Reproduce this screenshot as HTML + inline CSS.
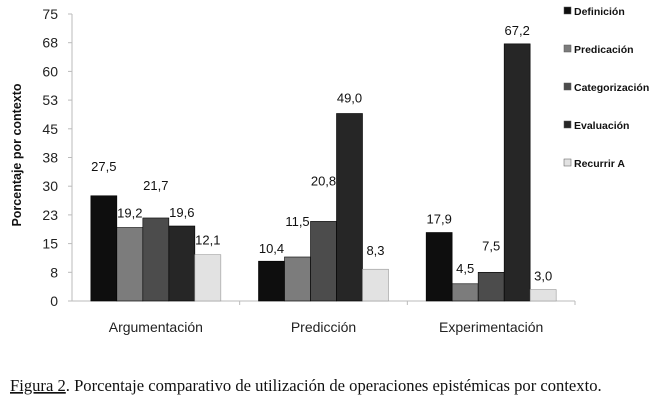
<!DOCTYPE html>
<html><head><meta charset="utf-8"><style>
body{margin:0;background:#fff;width:658px;height:406px;overflow:hidden;font-family:"Liberation Sans",sans-serif}
</style></head><body>
<svg width="658" height="406" id="svg">
<text transform="translate(21,155) rotate(-90)" text-anchor="middle" font-size="12.5" font-weight="bold" fill="#111">Porcentaje por contexto</text>
<text x="10" y="391" font-family="Liberation Serif,serif" font-size="16.6" fill="#111"><tspan text-decoration="underline">Figura 2</tspan>. Porcentaje comparativo de utilización de operaciones epistémicas por contexto.</text>
</svg>
<script>
const categories=["Argumentación","Predicción","Experimentación"];
const seriesNames=["Definición","Predicación","Categorización","Evaluación","Recurrir A"];
const defin=[27.5,10.4,17.9];
const predic=[19.2,11.5,4.5];
const categ=[21.7,20.8,7.5];
const evalu=[19.6,49.0,67.2];
const recur=[12.1,8.3,3.0];
const valueLabels=[["27,5","10,4","17,9"],["19,2","11,5","4,5"],["21,7","20,8","7,5"],["19,6","49,0","67,2"],["12,1","8,3","3,0"]];
const labelOffsets=[[30,13,14],[15,36,16],[33,41,27],[14,16,14],[15,19,14]];
const yTicks=[0,8,15,23,30,38,45,53,60,68,75];
const series=[defin,predic,categ,evalu,recur];
const colors=["#0e0e0e","#7c7c7c","#4c4c4c","#262626","#e2e2e2"];
const svg=document.getElementById('svg');const NS="http://www.w3.org/2000/svg";
const x0=72,x1=575,yB=301,yT=14,yMax=75;
const y=v=>yB-(v/yMax)*(yB-yT);
const gw=(x1-x0)/categories.length,bw=26,pad=(gw-bw*5)/2;
function mk(t,a,txt){const e=document.createElementNS(NS,t);for(const k in a)e.setAttribute(k,a[k]);if(txt!=null)e.textContent=txt;svg.appendChild(e);return e;}
let e=mk('line',{x1:x0,y1:yT,x2:x0,y2:yB,stroke:'#bbb'});

e=mk('line',{x1:x0,y1:yB,x2:x1,y2:yB,stroke:'#bbb'});

yTicks.forEach((t,i)=>{const yy=(yB-i*(yB-yT)/(yTicks.length-1));
e=mk('line',{x1:x0-4,y1:yy,x2:x0,y2:yy,stroke:'#bbb'});

e=mk('text',{x:58,y:yy+5,'text-anchor':'end','font-size':'14',fill:'#222'},String(t));
});
categories.forEach((c,ci)=>{const gx=x0+ci*gw;
e=mk('line',{x1:gx+gw,y1:yB,x2:gx+gw,y2:yB+4,stroke:'#bbb'});

e=mk('text',{x:gx+gw/2,y:332,'text-anchor':'middle','font-size':'14',fill:'#222'},c);

series.forEach((s,si)=>{const bx=gx+pad+si*bw,top=y(s[ci]);
e=mk('rect',{x:bx,y:top,width:bw,height:yB-top,fill:colors[si],stroke:si==4?'#999':'#000','stroke-width':0.6});

e=mk('text',{x:bx+bw/2,y:top-labelOffsets[si][ci]+5,'text-anchor':'middle','font-size':'13',fill:'#111'},valueLabels[si][ci]);
});});
seriesNames.forEach((n,i)=>{const ly=11+i*38;
e=mk('rect',{x:564,y:ly-4,width:7,height:7,fill:colors[i],stroke:'#555','stroke-width':0.5});

e=mk('text',{x:574,y:ly+4,'font-size':'10.5','font-weight':'bold',fill:'#111'},n);
});
</script>
</body></html>
